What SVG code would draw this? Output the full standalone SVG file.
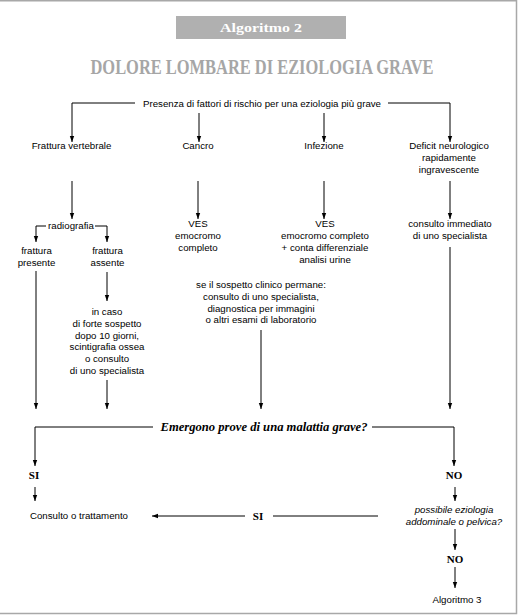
<svg xmlns="http://www.w3.org/2000/svg" width="518" height="615" viewBox="0 0 518 615">
<defs>
<marker id="ah" viewBox="0 -3 6 6" refX="6" refY="0" markerWidth="6" markerHeight="6" markerUnits="userSpaceOnUse" orient="auto">
<path d="M0,-2.2 L6,0 L0,2.2 z" fill="#000"/>
</marker>
<style>
.t{font-family:"Liberation Sans",Arial,sans-serif;font-size:9.7px;fill:#000;text-anchor:middle}
.ti{font-family:"Liberation Sans",Arial,sans-serif;font-size:9.7px;font-style:italic;fill:#000;text-anchor:middle}
.b{font-family:"Liberation Serif","Times New Roman",serif;font-size:11px;font-weight:bold;fill:#000;text-anchor:middle}
.c{fill:none;stroke:#000;stroke-width:1}
.a{marker-end:url(#ah)}
</style>
</defs>
<rect x="0" y="0" width="518" height="615" fill="#fff"/>
<g id="frame" fill="none" stroke="#a8a8a8" stroke-width="1.5">
<path d="M0,0.75 H516.5 V613.5 H0"/>
</g>
<g id="header">
<rect x="176" y="16" width="170" height="23" fill="#b0b0b0"/>
<text x="261" y="32" font-family="'Liberation Serif','Times New Roman',serif" font-size="13" font-weight="bold" fill="#fff" text-anchor="middle" textLength="82" lengthAdjust="spacingAndGlyphs">Algoritmo 2</text>
<text x="262" y="73.5" font-family="'Liberation Serif','Times New Roman',serif" font-size="20.5" font-weight="bold" fill="#a6a6a6" text-anchor="middle" textLength="343" lengthAdjust="spacingAndGlyphs">DOLORE LOMBARE DI EZIOLOGIA GRAVE</text>
</g>
<g id="connectors">
<path class="c a" d="M135,103 H72 V142"/>
<path class="c a" d="M388,103 H450 V142"/>
<path class="c a" d="M199,113 V142"/>
<path class="c a" d="M324,113 V142"/>
<path class="c a" d="M72,181 V219"/>
<path class="c a" d="M198,181 V219"/>
<path class="c a" d="M324,181 V219"/>
<path class="c a" d="M450,181 V219"/>
<path class="c a" d="M46,226 H36 V242"/>
<path class="c a" d="M95,226 H107 V242"/>
<path class="c a" d="M36,271 V409"/>
<path class="c a" d="M107,272 V301"/>
<path class="c a" d="M107,380 V409"/>
<path class="c a" d="M261,330 V409"/>
<path class="c a" d="M450,247 V409"/>
<path class="c a" d="M153,427 H35 V466"/>
<path class="c a" d="M372,427 H454 V466"/>
<path class="c a" d="M35,487 V501"/>
<path class="c a" d="M455,487 V501"/>
<path class="c a" d="M245,516 H152"/>
<path class="c" d="M378,516 H273"/>
<path class="c a" d="M455,529 V550"/>
<path class="c a" d="M455,567 V588"/>
</g>
<g id="n_presenza"><text class="t" x="262" y="107">Presenza di fattori di rischio per una eziologia più grave</text></g>
<g id="n_frattura"><text class="t" x="71.5" y="149">Frattura vertebrale</text></g>
<g id="n_cancro"><text class="t" x="198" y="149">Cancro</text></g>
<g id="n_infezione"><text class="t" x="324" y="149">Infezione</text></g>
<g id="n_deficit"><text class="t" x="449" y="149">Deficit neurologico</text><text class="t" x="449" y="161">rapidamente</text><text class="t" x="449" y="173">ingravescente</text></g>
<g id="n_radiografia"><text class="t" x="71" y="229">radiografia</text></g>
<g id="n_presente"><text class="t" x="36.5" y="254">frattura</text><text class="t" x="36.5" y="266">presente</text></g>
<g id="n_assente"><text class="t" x="107.5" y="254">frattura</text><text class="t" x="107.5" y="266">assente</text></g>
<g id="n_ves1"><text class="t" x="198" y="227">VES</text><text class="t" x="198" y="239">emocromo</text><text class="t" x="198" y="251">completo</text></g>
<g id="n_ves2"><text class="t" x="325" y="227">VES</text><text class="t" x="325" y="239">emocromo completo</text><text class="t" x="325" y="251">+ conta differenziale</text><text class="t" x="325" y="263">analisi urine</text></g>
<g id="n_consulto_imm"><text class="t" x="450" y="227">consulto immediato</text><text class="t" x="450" y="239">di uno specialista</text></g>
<g id="n_incaso"><text class="t" x="107" y="315">in caso</text><text class="t" x="107" y="327">di forte sospetto</text><text class="t" x="107" y="338.5">dopo 10 giorni,</text><text class="t" x="107" y="350">scintigrafia ossea</text><text class="t" x="107" y="362">o consulto</text><text class="t" x="107" y="373.5">di uno specialista</text></g>
<g id="n_sospetto"><text class="t" x="261" y="288">se il sospetto clinico permane:</text><text class="t" x="261" y="300">consulto di uno specialista,</text><text class="t" x="261" y="311.5">diagnostica per immagini</text><text class="t" x="261" y="323">o altri esami di laboratorio</text></g>
<g id="n_emergono"><text x="264" y="431" font-family="'Liberation Serif','Times New Roman',serif" font-size="12" font-weight="bold" font-style="italic" fill="#000" text-anchor="middle" textLength="207" lengthAdjust="spacingAndGlyphs">Emergono prove di una malattia grave?</text></g>
<g id="n_si1"><text class="b" x="34" y="479">SI</text></g>
<g id="n_no1"><text class="b" x="454" y="479">NO</text></g>
<g id="n_consulto_tratt"><text class="t" x="79" y="519">Consulto o trattamento</text></g>
<g id="n_si2"><text class="b" x="258" y="520">SI</text></g>
<g id="n_possibile"><text class="ti" x="454" y="513">possibile eziologia</text><text class="ti" x="454" y="525">addominale o pelvica?</text></g>
<g id="n_no2"><text class="b" x="455" y="563">NO</text></g>
<g id="n_alg3"><text class="t" x="457" y="603">Algoritmo 3</text></g>
</svg>
